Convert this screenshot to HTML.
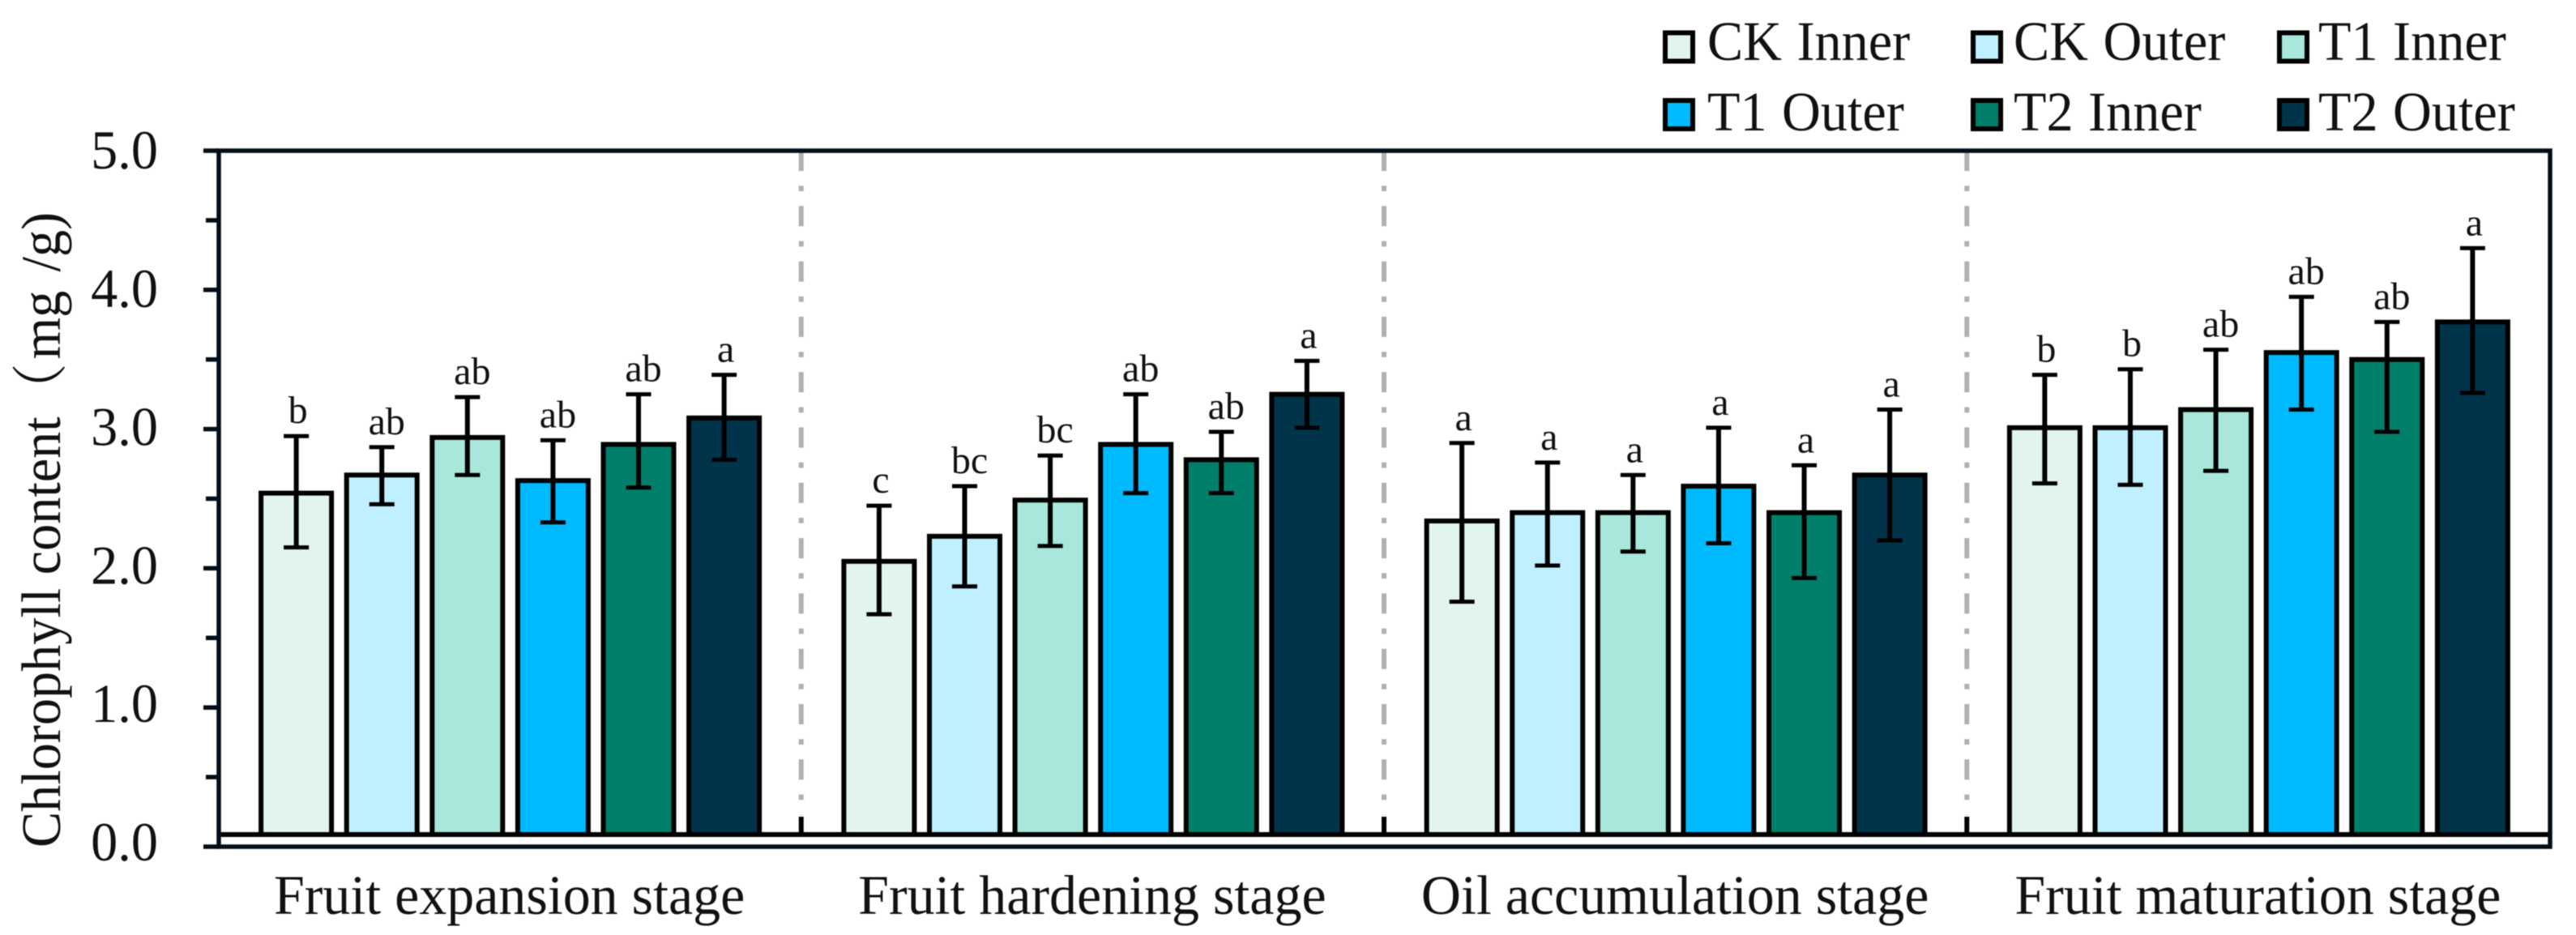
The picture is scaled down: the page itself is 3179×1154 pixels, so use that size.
<!DOCTYPE html>
<html lang="en">
<head>
<meta charset="utf-8">
<title>Chlorophyll content by fruit stage</title>
<style>
html,body{margin:0;padding:0;background:#fff;}
svg{display:block;filter:blur(0.5px);}
text{font-family:"Liberation Serif","Noto Serif CJK SC",serif;fill:#111;}
</style>
</head>
<body>
<svg id="chart" xmlns="http://www.w3.org/2000/svg" width="3179" height="1154" viewBox="0 0 3179 1154">
  <rect x="0" y="0" width="3179" height="1154" fill="#fff"/>
  <g id="dividers"></g>
  <g id="bars"></g>
  <g id="axes"></g>
  <g id="legend"></g>
  <text transform="translate(74,1046) rotate(-90) scale(.96,1)" font-size="69">Chlorophyll content（<tspan dx="5">mg</tspan><tspan dx="7"> /g)</tspan></text>
</svg>
<script>
const categories = ["Fruit expansion stage", "Fruit hardening stage", "Oil accumulation stage", "Fruit maturation stage"];
const seriesNames = ["CK Inner", "CK Outer", "T1 Inner", "T1 Outer", "T2 Inner", "T2 Outer"];
const seriesColors = ["#E2F4EF", "#C0EFFF", "#A9E6DB", "#00BAFF", "#00806A", "#00344A"];
const ckInner = [2.54, 2.05, 2.34, 3.01];
const ckOuter = [2.67, 2.23, 2.40, 3.01];
const t1Inner = [2.94, 2.49, 2.40, 3.14];
const t1Outer = [2.63, 2.89, 2.59, 3.55];
const t2Inner = [2.89, 2.78, 2.40, 3.50];
const t2Outer = [3.08, 3.25, 2.67, 3.77];
const ckInnerHigh = [2.95, 2.45, 2.90, 3.39];
const ckOuterHigh = [2.87, 2.59, 2.76, 3.43];
const t1InnerHigh = [3.23, 2.81, 2.67, 3.57];
const t1OuterHigh = [2.92, 3.25, 3.01, 3.95];
const t2InnerHigh = [3.25, 2.98, 2.74, 3.77];
const t2OuterHigh = [3.39, 3.49, 3.14, 4.30];
const ckInnerLow = [2.15, 1.67, 1.76, 2.61];
const ckOuterLow = [2.46, 1.87, 2.02, 2.60];
const t1InnerLow = [2.67, 2.16, 2.12, 2.70];
const t1OuterLow = [2.33, 2.54, 2.18, 3.14];
const t2InnerLow = [2.58, 2.54, 1.93, 2.98];
const t2OuterLow = [2.78, 3.01, 2.20, 3.26];
const ckInnerSig = ["b", "c", "a", "b"];
const ckOuterSig = ["ab", "bc", "a", "b"];
const t1InnerSig = ["ab", "bc", "a", "ab"];
const t1OuterSig = ["ab", "ab", "a", "ab"];
const t2InnerSig = ["ab", "ab", "a", "ab"];
const t2OuterSig = ["a", "a", "a", "a"];
const yTickLabels = ["0.0", "1.0", "2.0", "3.0", "4.0", "5.0"];
const yMinorTicks = [0.5, 1.5, 2.5, 3.5, 4.5];

const seriesValues = [ckInner, ckOuter, t1Inner, t1Outer, t2Inner, t2Outer];
const seriesHigh = [ckInnerHigh, ckOuterHigh, t1InnerHigh, t1OuterHigh, t2InnerHigh, t2OuterHigh];
const seriesLow = [ckInnerLow, ckOuterLow, t1InnerLow, t1OuterLow, t2InnerLow, t2OuterLow];
const seriesSig = [ckInnerSig, ckOuterSig, t1InnerSig, t1OuterSig, t2InnerSig, t2OuterSig];

const NS = "http://www.w3.org/2000/svg";
const plotLeft = 270, plotRight = 3147, plotTop = 186, plotBottom = 1045, barBase = 1030;
const yMax = 5;
const bandWidth = (plotRight - plotLeft) / categories.length;
const barStep = 105.6, barWidth = 87;
const axisColor = "#020e18";
function yScale(v) { return plotBottom - (v / yMax) * (plotBottom - plotTop); }
function bandCenter(i) { return plotLeft + bandWidth * (i + 0.5); }
function barCenter(c, s) { return bandCenter(c) + (s - (seriesNames.length - 1) / 2) * barStep; }
function make(tag, attrs) {
  const el = document.createElementNS(NS, tag);
  for (const k in attrs) el.setAttribute(k, attrs[k]);
  return el;
}
const dividers = document.getElementById("dividers");
const bars = document.getElementById("bars");
const axes = document.getElementById("axes");
const legend = document.getElementById("legend");

for (let i = 1; i < categories.length; i++) {
  const x = plotLeft + bandWidth * i - 0.5;
  const dash = make("line", { x1: x, x2: x, y1: plotTop, y2: 1006, stroke: "#b3afae", "stroke-width": 6, "stroke-dasharray": "25 18.3 6.7 18.3" });
  
  
  dividers.appendChild(dash);
  const stub = make("line", { x1: x, x2: x, y1: 1008, y2: barBase, stroke: "#000", "stroke-width": 6 });
  
  
  dividers.appendChild(stub);
}

categories.forEach(function (cat, c) {
  seriesNames.forEach(function (name, s) {
    const cx = barCenter(c, s);
    const top = yScale(seriesValues[s][c]);
    const rect = make("rect", { x: cx - barWidth / 2, y: top, width: barWidth, height: barBase - top, fill: seriesColors[s], stroke: "#000", "stroke-width": 6 });
    
    
    bars.appendChild(rect);
    const hi = yScale(seriesHigh[s][c]), lo = yScale(seriesLow[s][c]);
    const stem = make("line", { x1: cx, x2: cx, y1: hi, y2: lo, stroke: "#000", "stroke-width": 6 });
    
    
    bars.appendChild(stem);
    [hi, lo].forEach(function (y) {
      const cap = make("line", { x1: cx - 15.5, x2: cx + 15.5, y1: y, y2: y, stroke: "#000", "stroke-width": 5 });
      
      
      bars.appendChild(cap);
    });
    const letters = seriesSig[s][c];
    const sig = make("text", { x: cx + (letters.length > 1 ? 6 : 2), y: hi - 16, "font-size": 48, "text-anchor": "middle" });
    sig.textContent = letters;
    
    
    bars.appendChild(sig);
  });
  const label = make("text", { transform: "translate(" + (bandCenter(c) - 1) + ",1128) scale(.985,1)", "font-size": 69, "text-anchor": "middle" });
  label.textContent = cat;
  
  
  axes.appendChild(label);
});

const baseLine = make("line", { x1: plotLeft, x2: plotRight, y1: barBase, y2: barBase, stroke: "#000", "stroke-width": 6 });


axes.appendChild(baseLine);
const frame = make("rect", { x: plotLeft, y: plotTop, width: plotRight - plotLeft, height: plotBottom - plotTop, fill: "none", stroke: axisColor, "stroke-width": 5.5 });


axes.appendChild(frame);

yTickLabels.forEach(function (t) {
  const v = parseFloat(t);
  const y = yScale(v);
  const tick = make("line", { x1: 251, x2: plotLeft, y1: y, y2: y, stroke: axisColor, "stroke-width": 5.5 });
  
  
  axes.appendChild(tick);
  const labelBaseline = 1062 - v * 170.8;
  const lab = make("text", { transform: "translate(195," + labelBaseline + ") scale(.975,1)", "font-size": 68, "text-anchor": "end" });
  lab.textContent = t;
  
  
  axes.appendChild(lab);
});
yMinorTicks.forEach(function (v) {
  const y = yScale(v);
  const tick = make("line", { x1: 254, x2: plotLeft, y1: y, y2: y, stroke: axisColor, "stroke-width": 5.5 });
  
  
  axes.appendChild(tick);
});

const legendCols = [[2052, 2107], [2432, 2485], [2810, 2861]];
const legendRows = [[37.5, 74], [121, 161]];
seriesNames.forEach(function (name, s) {
  const col = legendCols[s % 3], row = legendRows[Math.floor(s / 3)];
  const sw = make("rect", { x: col[0] + 3, y: row[0] + 3, width: 34, height: 35, fill: seriesColors[s], stroke: "#000", "stroke-width": 6 });
  
  
  legend.appendChild(sw);
  const tx = make("text", { transform: "translate(" + col[1] + "," + row[1] + ") scale(.96,1)", "font-size": 69, "word-spacing": 2 });
  tx.textContent = name;
  
  
  legend.appendChild(tx);
});
</script>
</body>
</html>
